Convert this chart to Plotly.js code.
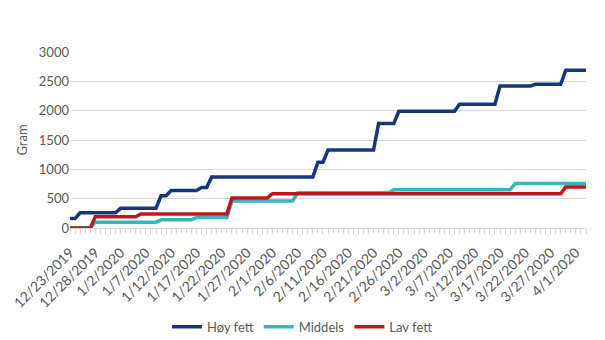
<!DOCTYPE html>
<html>
<head>
<meta charset="utf-8">
<script src="https://cdn.plot.ly/plotly-3.0.1.min.js"></script>
<style>html,body{margin:0;padding:0;background:#fff;}#chart{width:605px;height:340px;}</style>
</head>
<body>
<div id="chart"></div>
<script>
// Start date and number of daily observations (12/23/2019 .. 4/3/2020)
var startDate = '2019-12-23';
var dayCount = 103;

var seriesNames = ['Høy fett', 'Middels', 'Lav fett'];

var hoyFett = [
  160,160,
  260,260,260,260,260,260,260,260,
  335,335,335,335,335,335,335,335,
  550,550,
  640,640,640,640,640,640,
  690,690,
  870,870,870,870,870,870,870,870,870,870,870,870,870,870,870,870,870,870,870,870,870,
  1120,1120,
  1330,1330,1330,1330,1330,1330,1330,1330,1330,1330,
  1780,1780,1780,1780,
  1990,1990,1990,1990,1990,1990,1990,1990,1990,1990,1990,1990,
  2110,2110,2110,2110,2110,2110,2110,2110,
  2420,2420,2420,2420,2420,2420,2420,
  2450,2450,2450,2450,2450,2450,
  2690,2690,2690,2690,2690
];

var middels = [
  0,0,0,0,0,
  100,100,100,100,100,100,100,100,100,100,100,100,100,
  140,140,140,140,140,140,140,
  180,180,180,180,180,180,180,
  460,460,460,460,460,460,460,460,460,460,460,460,460,
  600,600,600,600,600,600,600,600,600,600,600,600,600,600,600,600,600,600,600,
  650,650,650,650,650,650,650,650,650,650,650,650,650,650,650,650,650,650,650,650,650,650,650,650,
  760,760,760,760,760,760,760,760,760,760,760,760,760,760,760
];

var lavFett = [
  0,0,0,0,0,
  190,190,190,190,190,190,190,190,190,
  240,240,240,240,240,240,240,240,240,240,240,240,240,240,240,240,240,240,
  510,510,510,510,510,510,510,510,
  585,585,585,585,585,585,585,585,585,585,585,585,585,585,585,585,585,585,585,585,
  585,585,585,585,585,585,585,585,585,585,585,585,585,585,585,585,585,585,585,585,
  585,585,585,585,585,585,585,585,585,585,585,585,585,585,585,585,585,585,
  700,700,700,700,700
];

var yTicks = [0, 500, 1000, 1500, 2000, 2500, 3000];

// daily category dates
var dates = [];
(function(){
  var d0 = new Date(startDate + 'T00:00:00Z');
  for (var i = 0; i < dayCount; i++) {
    var d = new Date(d0.getTime() + i * 86400000);
    dates.push(d.toISOString().slice(0, 10));
  }
})();

var colors = ['#17367A', '#32B7BD', '#C0161B'];
var values = [hoyFett, middels, lavFett];

var traces = values.map(function(v, k){
  return {
    x: dates, y: v, type: 'scatter', mode: 'lines', name: seriesNames[k],
    line: {color: colors[k], width: 3.5}
  };
});

var font = 'Lato, "Open Sans", sans-serif';
var layout = {
  width: 605, height: 340,
  margin: {l: 70, r: 19, t: 52, b: 112},
  paper_bgcolor: '#fff', plot_bgcolor: '#fff',
  font: {family: font, color: '#595959', size: 13},
  showlegend: true,
  legend: {orientation: 'h', xref: 'container', x: 0.5, xanchor: 'center',
           yref: 'container', y: 0.039, yanchor: 'middle',
           font: {size: 13, color: '#595959'}, itemwidth: 30, tracegroupgap: 0},
  xaxis: {
    type: 'date', automargin: false,
    range: [dates[0], dates[dates.length - 1]],
    tick0: startDate, dtick: 5 * 86400000,
    tickformat: '%-m/%-d/%Y',
    tickangle: -45,
    ticks: 'outside', ticklen: 5, tickcolor: '#d9d9d9',
    ticklabelstandoff: 5,
    minor: {dtick: 86400000, ticks: 'outside', ticklen: 5, tickcolor: '#d9d9d9', showgrid: false},
    showline: true, linecolor: '#d9d9d9', linewidth: 1,
    showgrid: false, zeroline: false,
    tickfont: {size: 14, color: '#595959'}
  },
  yaxis: {
    range: [0, 3000], tickvals: yTicks, automargin: false,
    showgrid: true, gridcolor: '#d9d9d9', gridwidth: 1,
    zeroline: false, showline: false, ticks: '',
    tickfont: {size: 13, color: '#595959'},
    title: {text: 'Gram', font: {size: 13, color: '#595959'}, standoff: 8}
  }
};

Plotly.newPlot('chart', traces, layout, {staticPlot: true, displayModeBar: false});
</script>
</body>
</html>
